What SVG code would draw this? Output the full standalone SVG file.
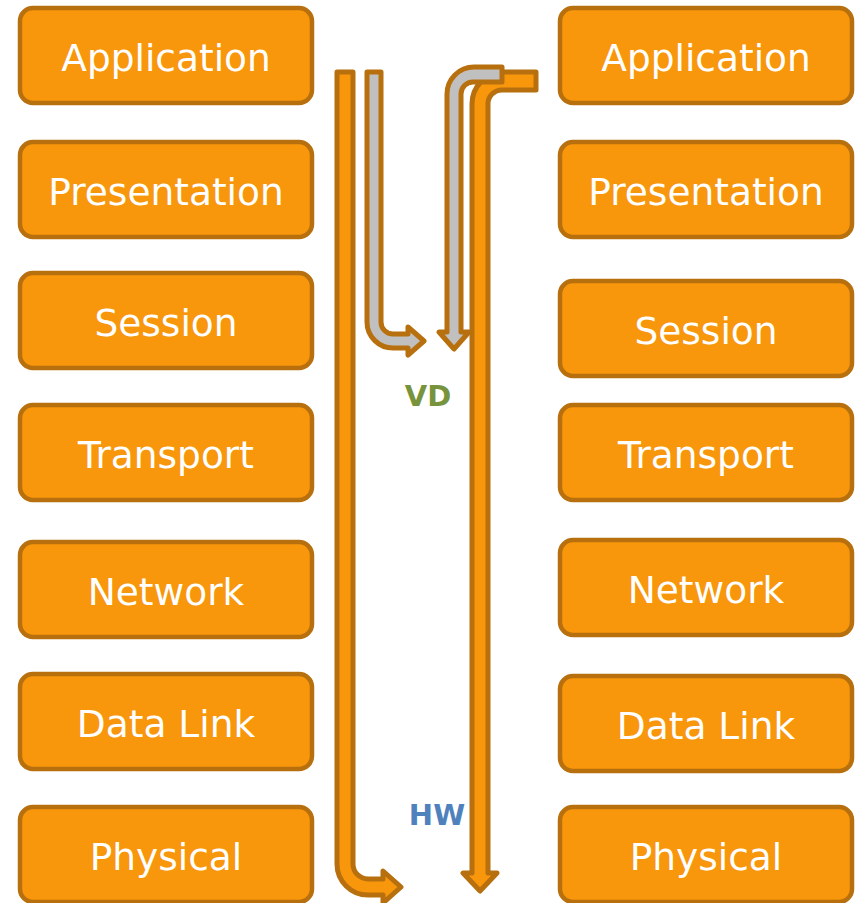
<svg xmlns="http://www.w3.org/2000/svg" width="859" height="903" viewBox="0 0 859 903">
<style>
.box{fill:#f8960c;stroke:#b8700e;stroke-width:4.5}
.lbl{fill:#ffffff;font-family:"DejaVu Sans",sans-serif;font-size:37.5px;text-anchor:middle}
.arr{stroke:#b8700e;stroke-width:5;stroke-linejoin:round}
.or{fill:#f8960c}
.gr{fill:#c0c0c0}
.tag{font-family:"DejaVu Sans",sans-serif;font-weight:bold;font-size:29px;text-anchor:middle}
</style>
<rect width="859" height="903" fill="#ffffff"/>
<g id="left-application"><rect class="box" x="20" y="8" width="292" height="95" rx="13"/><text class="lbl" x="166" y="71">Application</text></g>
<g id="left-presentation"><rect class="box" x="20" y="142" width="292" height="95" rx="13"/><text class="lbl" x="166" y="205">Presentation</text></g>
<g id="left-session"><rect class="box" x="20" y="273" width="292" height="95" rx="13"/><text class="lbl" x="166" y="336">Session</text></g>
<g id="left-transport"><rect class="box" x="20" y="405" width="292" height="95" rx="13"/><text class="lbl" x="166" y="468">Transport</text></g>
<g id="left-network"><rect class="box" x="20" y="542" width="292" height="95" rx="13"/><text class="lbl" x="166" y="605">Network</text></g>
<g id="left-datalink"><rect class="box" x="20" y="674" width="292" height="95" rx="13"/><text class="lbl" x="166" y="737">Data Link</text></g>
<g id="left-physical"><rect class="box" x="20" y="807" width="292" height="95" rx="13"/><text class="lbl" x="166" y="870">Physical</text></g>
<g id="right-application"><rect class="box" x="560" y="8" width="292" height="95" rx="13"/><text class="lbl" x="706" y="71">Application</text></g>
<g id="right-presentation"><rect class="box" x="560" y="142" width="292" height="95" rx="13"/><text class="lbl" x="706" y="205">Presentation</text></g>
<g id="right-session"><rect class="box" x="560" y="281" width="292" height="95" rx="13"/><text class="lbl" x="706" y="344">Session</text></g>
<g id="right-transport"><rect class="box" x="560" y="405" width="292" height="95" rx="13"/><text class="lbl" x="706" y="468">Transport</text></g>
<g id="right-network"><rect class="box" x="560" y="540" width="292" height="95" rx="13"/><text class="lbl" x="706" y="603">Network</text></g>
<g id="right-datalink"><rect class="box" x="560" y="676" width="292" height="95" rx="13"/><text class="lbl" x="706" y="739">Data Link</text></g>
<g id="right-physical"><rect class="box" x="560" y="807" width="292" height="95" rx="13"/><text class="lbl" x="706" y="870">Physical</text></g>
<g id="connectors">
<path class="arr or" d="M337,72 H353 V864 A15,15 0 0 0 368,879 H383 V871 L401,887 L383,903 V895 H368 A31,31 0 0 1 337,864 Z"/>
<path class="arr gr" d="M367,72 H381 V322 A12,12 0 0 0 393,334 H408 V327 L424,341 L408,355 V348 H393 A26,26 0 0 1 367,322 Z"/>
<path class="arr or" d="M536,72 V90 H502 A14,14 0 0 0 488,104 V873 H497 L480,891 L463,873 H472 V104 A32,32 0 0 1 504,72 Z"/>
<path class="arr gr" d="M502,67 V82 H473 A12,12 0 0 0 461,94 V332 H469 L454,349 L439,332 H447 V94 A27,27 0 0 1 474,67 Z"/>
</g>
<text class="tag" x="428" y="406" fill="#77933c">VD</text>
<text class="tag" x="437" y="825" fill="#4f81bd">HW</text>
</svg>
